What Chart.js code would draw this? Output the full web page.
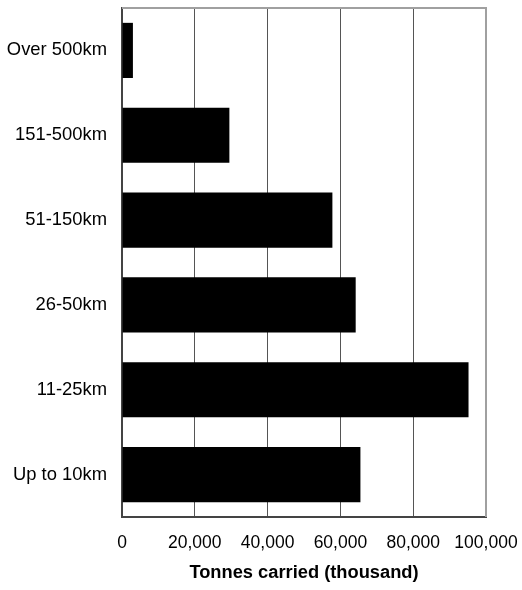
<!DOCTYPE html>
<html>
<head>
<meta charset="utf-8">
<script src="https://cdn.jsdelivr.net/npm/chart.js@4"></script>
<style>
  html, body { margin: 0; padding: 0; background: #fff; }
  #wrap { width: 522px; height: 590px; }
</style>
</head>
<body>
<div id="wrap"><canvas id="myChart" width="522" height="590"></canvas></div>
<script>
// Datos del grafico
const categorias = ["Over 500km", "151-500km", "51-150km", "26-50km", "11-25km", "Up to 10km"]
const toneladas = [3000, 29500, 57800, 64200, 95200, 65500]
const tituloEjeX = "Tonnes carried (thousand)"

// Marco gris arriba y a la derecha del area del grafico
const marcoPlugin = {
    id: 'marco',
    afterDraw(chart) {
        const { ctx, chartArea } = chart
        ctx.save()
        ctx.strokeStyle = '#a0a0a0'
        ctx.lineWidth = 2
        ctx.beginPath()
        ctx.moveTo(chartArea.left, chartArea.top)
        ctx.lineTo(chartArea.right + 1, chartArea.top)
        ctx.moveTo(chartArea.right, chartArea.top)
        ctx.lineTo(chartArea.right, chartArea.bottom)
        ctx.stroke()
        ctx.restore()
    }
}

const fuente = 'Liberation Sans, Arial, sans-serif'
const ctx = document.querySelector("#myChart").getContext("2d")

new Chart(ctx, {
    type: 'bar',
    data: {
        labels: categorias,
        datasets: [{
            data: toneladas,
            backgroundColor: '#000',
            borderWidth: 0,
            categoryPercentage: 0.65,
            barPercentage: 1.0
        }]
    },
    options: {
        indexAxis: 'y',
        responsive: false,
        animation: false,
        layout: { padding: { top: 8, right: 36, left: 7, bottom: 0 } },
        plugins: {
            legend: { display: false },
            tooltip: { enabled: false }
        },
        scales: {
            x: {
                min: 0,
                max: 100000,
                afterFit: s => { s.height = 73; s.paddingLeft = 0; s.paddingRight = 0 },
                ticks: {
                    stepSize: 20000,
                    color: '#000',
                    padding: 16,
                    font: { family: fuente, size: 17.5 },
                    callback: v => v.toLocaleString('en-US')
                },
                grid: { color: '#555', drawTicks: false, lineWidth: 1 },
                border: { color: '#444', width: 2 },
                title: {
                    display: true,
                    text: tituloEjeX,
                    color: '#000',
                    font: { family: fuente, size: 18.3, weight: 'bold' },
                    padding: { top: 8, bottom: 6 }
                }
            },
            y: {
                afterFit: s => { s.width = 115; s.paddingTop = 0; s.paddingBottom = 0 },
                ticks: {
                    color: '#000',
                    padding: 15,
                    font: { family: fuente, size: 18.4 }
                },
                grid: { display: false, drawTicks: false },
                border: { color: '#444', width: 2 }
            }
        }
    },
    plugins: [marcoPlugin]
})
</script>
</body>
</html>
